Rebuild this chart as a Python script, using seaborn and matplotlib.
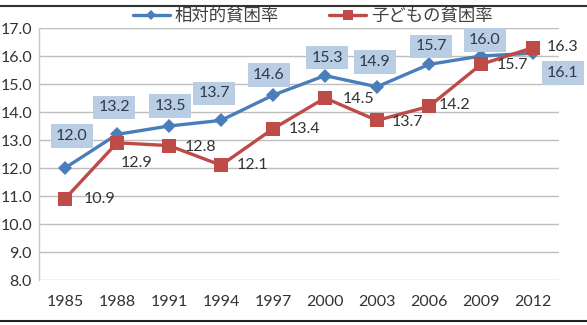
import matplotlib
matplotlib.use("Agg")
import matplotlib.pyplot as plt
from matplotlib.lines import Line2D
import seaborn as sns
import pandas as pd

years = ["1985", "1988", "1991", "1994", "1997", "2000", "2003", "2006", "2009", "2012"]
relative = [12.0, 13.2, 13.5, 13.7, 14.6, 15.3, 14.9, 15.7, 16.0, 16.1]
child = [10.9, 12.9, 12.8, 12.1, 13.4, 14.5, 13.7, 14.2, 15.7, 16.3]
series_names = ["相対的貧困率", "子どもの貧困率"]
yticks = [8.0, 9.0, 10.0, 11.0, 12.0, 13.0, 14.0, 15.0, 16.0, 17.0]

BLUE = "#4A7EBB"
RED = "#BE4B48"
BOX = "#B9CDE5"

sns.set_theme(style="white")
plt.rcParams["font.family"] = ["Lato", "Noto Sans CJK JP", "DejaVu Sans"]

df = pd.DataFrame({
    "idx": list(range(len(years))) * 2,
    "value": relative + child,
    "series": [series_names[0]] * len(years) + [series_names[1]] * len(years),
})

fig = plt.figure(figsize=(5.87, 3.25), dpi=100)
ax = fig.add_axes([39 / 587, 1 - 280 / 325, 520 / 587, 252 / 325])

sns.lineplot(data=df, x="idx", y="value", hue="series", style="series",
             palette={series_names[0]: BLUE, series_names[1]: RED},
             markers={series_names[0]: "D", series_names[1]: "s"},
             dashes=False, linewidth=2.4, markeredgewidth=0,
             ax=ax, legend=False)
for ln, ms in zip(ax.lines[:2], [7, 9.5]):
    ln.set_markersize(ms)

ax.set_xlim(-0.5, len(years) - 0.5)
ax.set_ylim(8.0, 17.0)
ax.set_yticks(yticks)
ax.set_yticklabels([f"{v:.1f}" for v in yticks])
ax.set_xticks(range(len(years)))
ax.set_xticklabels(years)
ax.set_xlabel("")
ax.set_ylabel("")
ax.grid(axis="y", color="#BEBEBE", linewidth=1.0)
ax.grid(axis="x", visible=False)
ax.set_axisbelow(True)
for s in ["top", "right", "bottom"]:
    ax.spines[s].set_visible(False)
ax.spines["left"].set_color("#C8C8C8")
ax.spines["left"].set_linewidth(1.0)
ax.tick_params(axis="both", length=0, labelsize=11.5, labelcolor="#333333")
ax.tick_params(axis="y", pad=5)
ax.tick_params(axis="x", pad=11)

# blue labels (boxed), offsets in pixels (dx, dy)
blue_off = [(7, 32), (-3, 27), (1, 20), (-7, 27), (-4, 20), (2, 18), (-2, 25), (2, 18), (4, 16), (30, -20)]
for i, (v, (dx, dy)) in enumerate(zip(relative, blue_off)):
    ax.annotate(f"{v:.1f}", (i, v), xytext=(dx * 0.72, dy * 0.72), textcoords="offset points",
                ha="center", va="center", fontsize=11.5, color="#2F3B4C",
                bbox=dict(boxstyle="square,pad=0.3", fc=BOX, ec="none"))

red_off = [(35, 0), (20, -20), (31, -1), (32, 0), (31, 0), (33, -1), (30, -2), (26, 1), (31, -1), (30, 1)]
for i, (v, (dx, dy)) in enumerate(zip(child, red_off)):
    ax.annotate(f"{v:.1f}", (i, v), xytext=(dx * 0.72, dy * 0.72), textcoords="offset points",
                ha="center", va="center", fontsize=11.5, color="#333333")

handles = [
    Line2D([], [], color=BLUE, marker="D", markersize=5, linewidth=2.4, markeredgewidth=0),
    Line2D([], [], color=RED, marker="s", markersize=7, linewidth=2.4, markeredgewidth=0),
]
fig.legend(handles, series_names, loc="center", bbox_to_anchor=(313 / 587, 1 - 16 / 325),
           ncol=2, frameon=False, handlelength=2.1, handletextpad=0.3, columnspacing=2.9,
           prop={"family": ["Noto Sans CJK JP", "DejaVu Sans"], "size": 12.5},
           labelcolor="#404040")

fig.add_artist(Line2D([0, 1], [1 - 5.5 / 325, 1 - 5.5 / 325], transform=fig.transFigure,
                      color="#333333", linewidth=1.5))
fig.add_artist(Line2D([0, 1], [1 - 320.5 / 325, 1 - 320.5 / 325], transform=fig.transFigure,
                      color="#222222", linewidth=1.5))

fig.savefig("out.png", dpi=100, facecolor="white")
